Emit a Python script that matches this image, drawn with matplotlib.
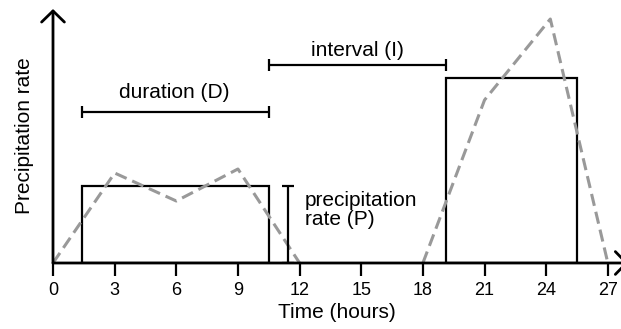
import matplotlib
matplotlib.use('Agg')
import matplotlib.pyplot as plt

plt.rcParams['font.family'] = ['Liberation Sans', 'DejaVu Sans']

# --------------------------------------------------------------------------------------------------------------------
# Data (hours / arbitrary rate units):
# --------------------------------------------------------------------------------------------------------------------
hour_ticks = [0, 3, 6, 9, 12, 15, 18, 21, 24, 27]

event_start = [1.4, 19.1]
event_end = [10.5, 25.5]
event_rate = [7.7, 18.5]

obs1_t = [0, 3, 6, 9, 12]
obs1_p = [0, 9.0, 6.2, 9.4, 0]
obs2_t = [18, 21, 24.2, 27]
obs2_p = [0, 16.3, 24.4, 0]

duration_y = 15.1
interval_y = 19.8
rate_bar_x = 11.45

# --------------------------------------------------------------------------------------------------------------------
# Plot:
# --------------------------------------------------------------------------------------------------------------------
fig = plt.figure(figsize=(6.21, 3.29), dpi=100)
ax = fig.add_axes([53 / 621, 66 / 329, 568 / 621, 253 / 329])
ax.set_xlim(0, 27.64)
ax.set_ylim(0, 25.3)
for s in ax.spines.values():
    s.set_visible(False)

# observed rates (dashed)
ax.plot(obs1_t, obs1_p, color='#999999', lw=2.2, dashes=(4, 2), clip_on=False)
ax.plot(obs2_t, obs2_p, color='#999999', lw=2.2, dashes=(4, 2), clip_on=False)

# rectangular events
widths = [e - s for s, e in zip(event_start, event_end)]
ax.bar(event_start, event_rate, width=widths, align='edge', fill=False,
       edgecolor='black', linewidth=1.6)

# duration / interval / rate bars
ax.errorbar((event_start[0] + event_end[0]) / 2, duration_y,
            xerr=(event_end[0] - event_start[0]) / 2, fmt='none',
            ecolor='black', elinewidth=1.6, capsize=4, capthick=1.6)
ax.errorbar((event_end[0] + event_start[1]) / 2, interval_y,
            xerr=(event_start[1] - event_end[0]) / 2, fmt='none',
            ecolor='black', elinewidth=1.6, capsize=4, capthick=1.6)
ax.errorbar(rate_bar_x, event_rate[0] / 2, yerr=event_rate[0] / 2, fmt='none',
            ecolor='black', elinewidth=1.6, capsize=4, capthick=1.6)

ax.text(5.9, 17.1, 'duration (D)', ha='center', va='center', fontsize=15)
ax.text(14.8, 21.3, 'interval (I)', ha='center', va='center', fontsize=15)
ax.text(12.26, 5.3, 'precipitation\nrate (P)', ha='left', va='center',
        fontsize=15, linespacing=1.0)

# axes with arrows
arrow = dict(arrowstyle='->,head_length=0.8,head_width=0.82',
             lw=2, color='black', shrinkA=0, shrinkB=0)
ax.annotate('', xy=(0, 25.4), xytext=(0, 0), annotation_clip=False,
            arrowprops=arrow)
ax.annotate('', xy=(28.0, 0), xytext=(0, 0), annotation_clip=False,
            arrowprops=arrow)

ax.set_xticks(hour_ticks)
ax.set_xticklabels([str(h) for h in hour_ticks])
ax.set_yticks([])
ax.tick_params(axis='x', length=9.5, width=1.6, pad=4, labelsize=13)

fig.text(25 / 621, 1 - 136 / 329, 'Precipitation rate', rotation=90,
         ha='center', va='center', fontsize=15)
fig.text(337 / 621, 1 - 313 / 329, 'Time (hours)', ha='center', va='center',
         fontsize=15)

fig.savefig('out.png', dpi=100)
